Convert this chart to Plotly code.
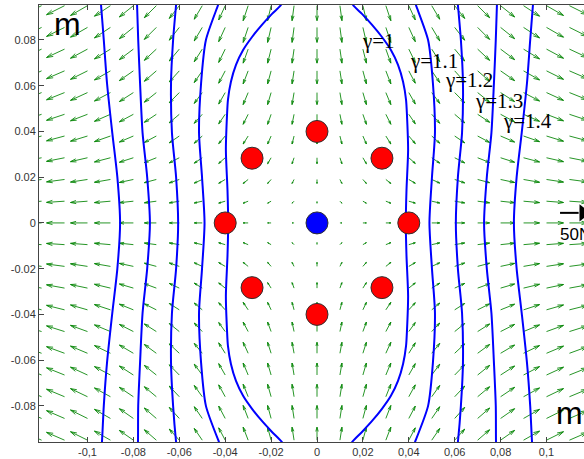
import plotly.graph_objects as go

# ---------------- data ----------------
# quiver grid
x_grid = [-0.12, -0.11, -0.10, -0.09, -0.08, -0.07, -0.06, -0.05, -0.04, -0.03, -0.02, -0.01, 0.0,
          0.01, 0.02, 0.03, 0.04, 0.05, 0.06, 0.07, 0.08, 0.09, 0.10, 0.11, 0.12]
y_grid = [-0.095, -0.0855, -0.076, -0.0665, -0.057, -0.0475, -0.038, -0.0285, -0.019, -0.0095, 0.0,
          0.0095, 0.019, 0.0285, 0.038, 0.0475, 0.057, 0.0665, 0.076, 0.0855, 0.095]
# horizontal component per column (screen px)
u_col = [-18, -18, -17, -16, -14, -12, -10, -8, -6.5, -5, -3.5, -2, 0,
         2, 3.5, 5, 6.5, 8, 10, 12, 14, 16, 17, 18, 18]
# vertical component per row (screen px)
v_row = [13, 13, 12.5, 12, 11, 9.5, 7.5, 5.5, 4, 2, 0,
         -2, -4, -6, -8, -10, -12, -13, -14, -15, -15]
# attenuation of vertical component per column
v_col = [0.6, 0.6, 0.65, 0.7, 0.75, 0.8, 0.85, 0.9, 0.95, 1, 1, 1, 1,
         1, 1, 1, 0.95, 0.9, 0.85, 0.8, 0.75, 0.7, 0.65, 0.6, 0.6]

# gamma contours: right branch (x) at y positions; left branch is the mirror image
g_levels = ["γ=1", "γ=1.1", "γ=1.2", "γ=1.3", "γ=1.4"]
g10_y = [0.0990, 0.0953, 0.0914, 0.0866, 0.0813, 0.0756, 0.0691, 0.0617, 0.0538, 0.0472, 0.0319, 0.0144, 0.0,
         -0.0144, -0.0319, -0.0472, -0.0538, -0.0617, -0.0691, -0.0756, -0.0813, -0.0866, -0.0914, -0.0958, -0.0990]
g10_x = [0.0140, 0.0157, 0.0196, 0.0240, 0.0283, 0.0322, 0.0353, 0.0375, 0.0388, 0.0392, 0.0397, 0.0390, 0.0387,
         0.0390, 0.0397, 0.0392, 0.0388, 0.0375, 0.0353, 0.0322, 0.0283, 0.0240, 0.0196, 0.0153, 0.0138]
g_y = [0.0975, 0.0953, 0.080, 0.0612, 0.0394, 0.0201, 0.0, -0.0201, -0.0394, -0.0612, -0.080, -0.0958, -0.0975]
g11_x = [0.0424, 0.0431, 0.0484, 0.0505, 0.0514, 0.0501, 0.0490, 0.0501, 0.0514, 0.0505, 0.0484, 0.0427, 0.0420]
g12_x = [0.0612, 0.0614, 0.0627, 0.0636, 0.0632, 0.0614, 0.0605, 0.0614, 0.0632, 0.0636, 0.0627, 0.0614, 0.0612]
g13_x = [0.0785, 0.0784, 0.0779, 0.0771, 0.0760, 0.0740, 0.0728, 0.0740, 0.0760, 0.0771, 0.0779, 0.0780, 0.0781]
g14_x = [0.0943, 0.0941, 0.0929, 0.0915, 0.0892, 0.0870, 0.0858, 0.0870, 0.0892, 0.0915, 0.0929, 0.0937, 0.0939]
label_x = [0.0270, 0.0510, 0.0662, 0.0793, 0.0919]
label_y = [0.0796, 0.0708, 0.0625, 0.0533, 0.0446]

# atoms
red_x = [0.0, 0.0283, 0.04, 0.0283, 0.0, -0.0283, -0.04, -0.0283]
red_y = [0.04, 0.0283, 0.0, -0.0283, -0.04, -0.0283, 0.0, 0.0283]
blue_x = [0.0]
blue_y = [0.0]

x_ticks = [-0.1, -0.08, -0.06, -0.04, -0.02, 0, 0.02, 0.04, 0.06, 0.08, 0.1]
x_ticktext = ["-0,1", "-0,08", "-0,06", "-0,04", "-0,02", "0", "0,02", "0,04", "0,06", "0,08", "0,1"]
y_ticks = [-0.08, -0.06, -0.04, -0.02, 0, 0.02, 0.04, 0.06, 0.08]
y_ticktext = ["-0.08", "-0.06", "-0.04", "-0.02", "0", "0.02", "0.04", "0.06", "0.08"]

scale_label = "50N"

# ---------------- figure ----------------
PXX = 2295.0  # px per data unit (x)
PXY = 2287.0  # px per data unit (y)
alpha, beta = 0.33, 0.28

qx, qy = [], []
for j, yv in enumerate(y_grid):
    for i, xv in enumerate(x_grid):
        u = u_col[i]
        v = v_row[j] * v_col[i]
        if abs(u) < 0.3 and abs(v) < 0.3:
            continue
        tx, ty = xv + u / PXX, yv + v / PXY
        qx += [xv, tx, None]
        qy += [yv, ty, None]
        h1x = u - alpha * (u + beta * v)
        h1y = v - alpha * (v - beta * u)
        h2x = u - alpha * (u - beta * v)
        h2y = v - alpha * (v + beta * u)
        qx += [xv + h1x / PXX, tx, xv + h2x / PXX, None]
        qy += [yv + h1y / PXY, ty, yv + h2y / PXY, None]

fig = go.Figure()
fig.add_trace(go.Scatter(x=qx, y=qy, mode="lines",
                         line=dict(color="rgba(0,130,0,0.85)", width=1),
                         hoverinfo="skip", showlegend=False))

for cx, cy in [(g10_x, g10_y), (g11_x, g_y), (g12_x, g_y), (g13_x, g_y), (g14_x, g_y)]:
    for sgn in (1, -1):
        fig.add_trace(go.Scatter(x=[sgn * v for v in cx], y=cy, mode="lines",
                                 line=dict(color="#0000ff", width=2, shape="spline", smoothing=0.7),
                                 hoverinfo="skip", showlegend=False))

fig.add_trace(go.Scatter(x=red_x, y=red_y, mode="markers",
                         marker=dict(size=22, color="#ff0000", line=dict(color="#303030", width=1)),
                         showlegend=False))
fig.add_trace(go.Scatter(x=blue_x, y=blue_y, mode="markers",
                         marker=dict(size=22, color="#0000ff", line=dict(color="#303030", width=1)),
                         showlegend=False))

# scale arrow
fig.add_trace(go.Scatter(x=[0.1059, 0.1140], y=[0.0044, 0.0044], mode="lines",
                         line=dict(color="black", width=2), showlegend=False, hoverinfo="skip"))
fig.add_trace(go.Scatter(x=[0.1160], y=[0.0044], mode="markers", cliponaxis=False,
                         marker=dict(symbol="triangle-right", size=15, color="black"),
                         showlegend=False, hoverinfo="skip"))

for t, lx, ly in zip(g_levels, label_x, label_y):
    fig.add_annotation(x=lx, y=ly, text=t, showarrow=False, xref="x", yref="y",
                       font=dict(family="Liberation Serif", size=21, color="black"))

fig.add_annotation(x=-0.1087, y=0.0870, text="m", showarrow=False,
                   font=dict(family="Liberation Sans", size=32, color="black"))
fig.add_annotation(x=0.1101, y=-0.0833, text="m", showarrow=False,
                   font=dict(family="Liberation Sans", size=32, color="black"))
fig.add_annotation(x=0.1050, y=-0.0052, text=scale_label, showarrow=False, xanchor="left",
                   font=dict(family="Liberation Sans", size=17, color="black"))

fig.update_layout(
    width=584, height=459,
    margin=dict(l=39, r=0, t=5, b=17),
    paper_bgcolor="white", plot_bgcolor="white",
    xaxis=dict(range=[-0.12113, 0.11634], tickvals=x_ticks, ticktext=x_ticktext,
               showgrid=False, zeroline=False, showline=True, linecolor="#444", linewidth=1,
               mirror="ticks", ticks="inside", ticklen=5, tickcolor="#444",
               tickfont=dict(family="Liberation Sans", size=11, color="#333")),
    yaxis=dict(range=[-0.0958, 0.0953], tickvals=y_ticks, ticktext=y_ticktext,
               showgrid=False, zeroline=False, showline=True, linecolor="#444", linewidth=1,
               ticks="inside", ticklen=5, tickcolor="#444",
               tickfont=dict(family="Liberation Sans", size=11, color="#333")),
)

fig.write_html("out.html")
